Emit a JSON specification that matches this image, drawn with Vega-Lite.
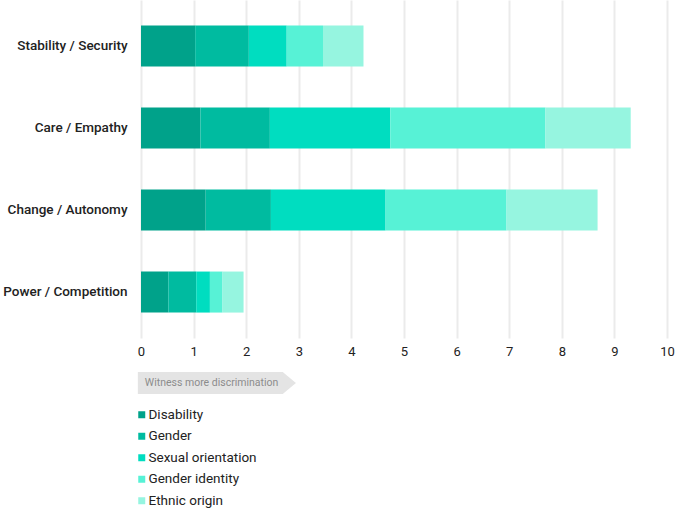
{
  "$schema": "https://vega.github.io/schema/vega-lite/v6.json",
  "padding": {"left": 2, "top": 0, "right": 2, "bottom": 5},
  "background": "white",
  "config": {
    "view": {"stroke": null},
    "font": "Roboto",
    "legend": {
      "labelFontSize": 13.5,
      "labelColor": "#222",
      "labelFont": "Roboto",
      "symbolType": "square",
      "symbolSize": 49,
      "symbolStrokeWidth": 0,
      "rowPadding": 6.5,
      "labelOffset": 0
    }
  },
  "spacing": 14,
  "vconcat": [
    {
      "width": 526,
      "height": 338,
      "data": {
        "values": [
          {"category": "Stability / Security", "group": "Disability", "order": 1, "value": 1.03},
          {"category": "Stability / Security", "group": "Gender", "order": 2, "value": 1.02},
          {"category": "Stability / Security", "group": "Sexual orientation", "order": 3, "value": 0.72},
          {"category": "Stability / Security", "group": "Gender identity", "order": 4, "value": 0.69},
          {"category": "Stability / Security", "group": "Ethnic origin", "order": 5, "value": 0.77},
          {"category": "Care / Empathy", "group": "Disability", "order": 1, "value": 1.13},
          {"category": "Care / Empathy", "group": "Gender", "order": 2, "value": 1.32},
          {"category": "Care / Empathy", "group": "Sexual orientation", "order": 3, "value": 2.29},
          {"category": "Care / Empathy", "group": "Gender identity", "order": 4, "value": 2.95},
          {"category": "Care / Empathy", "group": "Ethnic origin", "order": 5, "value": 1.62},
          {"category": "Change / Autonomy", "group": "Disability", "order": 1, "value": 1.23},
          {"category": "Change / Autonomy", "group": "Gender", "order": 2, "value": 1.24},
          {"category": "Change / Autonomy", "group": "Sexual orientation", "order": 3, "value": 2.18},
          {"category": "Change / Autonomy", "group": "Gender identity", "order": 4, "value": 2.30},
          {"category": "Change / Autonomy", "group": "Ethnic origin", "order": 5, "value": 1.73},
          {"category": "Power / Competition", "group": "Disability", "order": 1, "value": 0.52},
          {"category": "Power / Competition", "group": "Gender", "order": 2, "value": 0.53},
          {"category": "Power / Competition", "group": "Sexual orientation", "order": 3, "value": 0.26},
          {"category": "Power / Competition", "group": "Gender identity", "order": 4, "value": 0.24},
          {"category": "Power / Competition", "group": "Ethnic origin", "order": 5, "value": 0.40}
        ]
      },
      "mark": {"type": "bar"},
      "encoding": {
        "y": {
          "field": "category",
          "type": "nominal",
          "sort": ["Stability / Security", "Care / Empathy", "Change / Autonomy", "Power / Competition"],
          "scale": {"paddingInner": 0.5, "paddingOuter": 0.31},
          "axis": {
            "title": null,
            "ticks": false,
            "domain": false,
            "grid": false,
            "labelPadding": 14,
            "labelFontSize": 13.5,
            "labelFontWeight": 500,
            "labelColor": "#222"
          }
        },
        "x": {
          "field": "value",
          "type": "quantitative",
          "stack": "zero",
          "scale": {"domain": [0, 10], "nice": false},
          "axis": {
            "title": null,
            "values": [0, 1, 2, 3, 4, 5, 6, 7, 8, 9, 10],
            "ticks": false,
            "domain": false,
            "grid": true,
            "gridColor": "#ebebeb",
            "gridWidth": 2,
            "labelFlush": false,
            "labelFontSize": 13,
            "labelColor": "#222",
            "labelPadding": 7
          }
        },
        "color": {
          "field": "group",
          "type": "nominal",
          "scale": {
            "domain": ["Disability", "Gender", "Sexual orientation", "Gender identity", "Ethnic origin"],
            "range": ["#00a28a", "#00bba0", "#00ddc0", "#57f2d6", "#96f5e0"]
          },
          "legend": {"title": null, "orient": "none", "legendX": -6, "legendY": 408, "direction": "vertical"}
        },
        "order": {"field": "order", "type": "quantitative"}
      }
    },
    {
      "width": 526,
      "height": 22,
      "data": {
        "values": [
          {"start": -0.06, "end": 2.70, "tip": 2.82, "label": "Witness more discrimination"}
        ]
      },
      "layer": [
        {
          "mark": {"type": "rect", "color": "#e4e4e4"},
          "encoding": {
            "x": {"field": "start", "type": "quantitative", "scale": {"domain": [0, 10], "nice": false}, "axis": null},
            "x2": {"field": "end"}
          }
        },
        {
          "mark": {"type": "point", "filled": true, "color": "#e4e4e4", "opacity": 1, "size": 484, "shape": "M-0.6,-1L0.6,0L-0.6,1Z"},
          "encoding": {
            "x": {"field": "tip", "type": "quantitative"}
          }
        },
        {
          "mark": {"type": "text", "align": "left", "baseline": "middle", "dx": 7, "fontSize": 10.5, "color": "#8c8c8c"},
          "encoding": {
            "x": {"field": "start", "type": "quantitative"},
            "text": {"field": "label"}
          }
        }
      ]
    }
  ]
}
